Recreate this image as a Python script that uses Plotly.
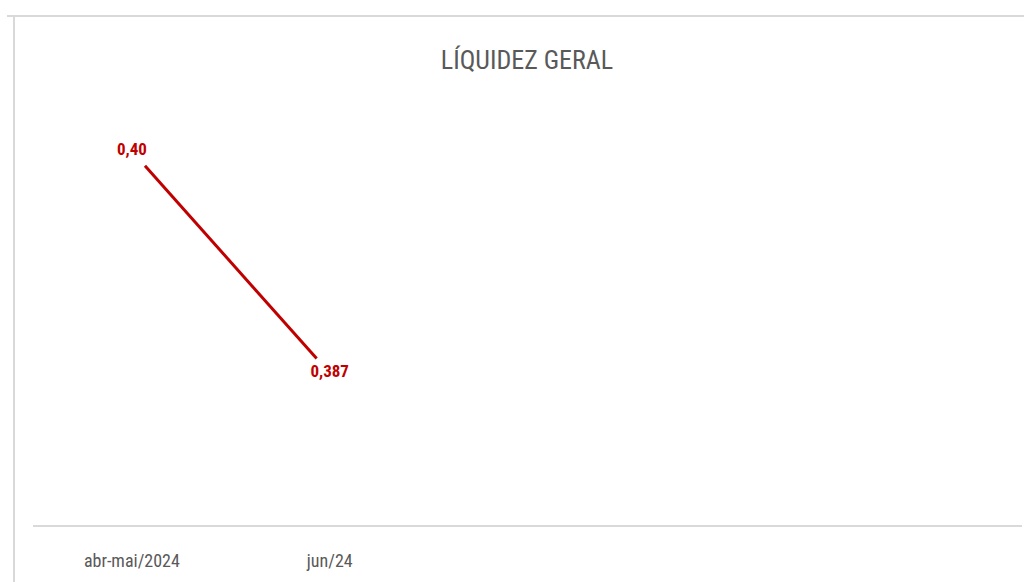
import plotly.graph_objects as go

categories = ["abr-mai/2024", "jun/24", "", "", ""]
values = [0.40, 0.387]
value_labels = ["0,40", "0,387"]
title_text = "LÍQUIDEZ GERAL"

RED = "#c00000"
GREY_TXT = "#595959"
FONT = "Roboto Condensed, Liberation Sans Narrow, Roboto, sans-serif"

W, H = 1024, 582
L, R, T, B = 33, 2, 100, 57
PW, PH = W - L - R, H - T - B

xs = list(range(len(values)))

# trimmed line segments between points (gap near labels)
gap = 0.066
seg_x, seg_y = [], []
for i in range(len(values) - 1):
    x0, x1 = xs[i], xs[i + 1]
    y0, y1 = values[i], values[i + 1]
    seg_x += [x0 + gap * (x1 - x0), x1 - gap * (x1 - x0), None]
    seg_y += [y0 + gap * (y1 - y0), y1 - gap * (y1 - y0), None]

fig = go.Figure()
fig.add_trace(go.Scatter(x=seg_x, y=seg_y, mode="lines",
                         line=dict(color=RED, width=3), hoverinfo="skip",
                         showlegend=False))
fig.add_trace(go.Scatter(x=xs, y=values, mode="text", text=value_labels,
                         textposition="middle center",
                         textfont=dict(color=RED, size=17, family=FONT, weight="bold"),
                         showlegend=False))

def px_x(p):
    return (p - L) / PW

def px_y(p):
    return (H - B - p) / PH

shapes = [
    dict(type="line", xref="paper", yref="paper", x0=px_x(7), x1=px_x(1024),
         y0=px_y(16), y1=px_y(16), line=dict(color="#d9d9d9", width=2)),
    dict(type="line", xref="paper", yref="paper", x0=px_x(14), x1=px_x(14),
         y0=px_y(16), y1=px_y(582), line=dict(color="#d9d9d9", width=2)),
]

fig.update_layout(
    width=W, height=H,
    margin=dict(l=L, r=R, t=T, b=B),
    paper_bgcolor="white", plot_bgcolor="white",
    title=dict(text=title_text, x=527 / W, xanchor="center", y=1 - 60 / H, yanchor="middle",
               font=dict(family=FONT, size=26, color=GREY_TXT)),
    shapes=shapes,
    xaxis=dict(range=[-0.5, len(categories) - 0.5], tickvals=list(range(len(categories))),
               ticktext=categories, showgrid=False, zeroline=False,
               showline=True, linecolor="#d9d9d9", linewidth=2,
               ticks="", ticklabelstandoff=18,
               tickfont=dict(family=FONT, size=18, color=GREY_TXT), fixedrange=True),
    yaxis=dict(range=[0.3781, 0.4030], visible=False, fixedrange=True),
)

fig.write_html("out.html", post_script="document.body.style.margin='0';",
               config={"displayModeBar": False})
